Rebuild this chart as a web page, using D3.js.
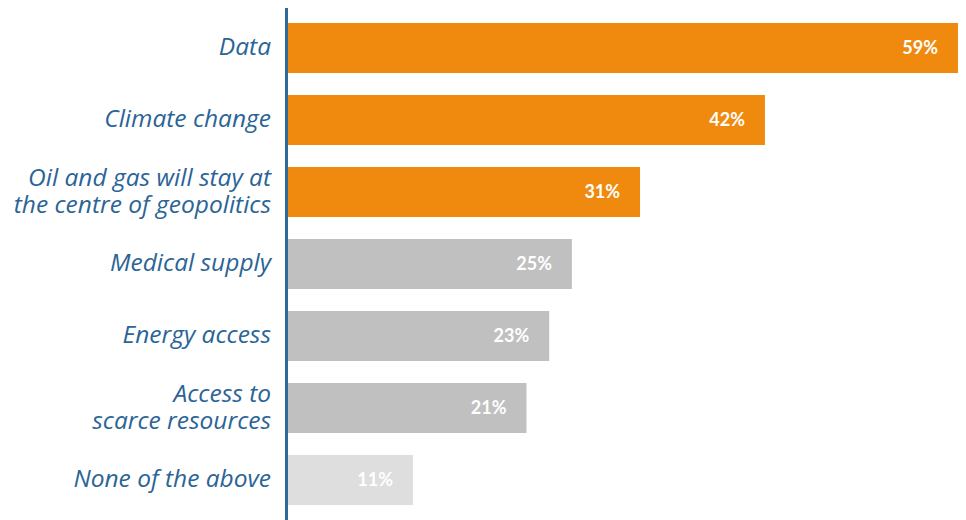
<!DOCTYPE html>
<html><head><meta charset="utf-8">
<script src="https://cdn.jsdelivr.net/npm/d3@7"></script>
<style>body{margin:0;background:#fff}svg{display:block}</style>
</head><body>
<svg id="chart" width="966" height="520"></svg>
<script>
const categories = [
  ["Data"],
  ["Climate change"],
  ["Oil and gas will stay at", "the centre of geopolitics"],
  ["Medical supply"],
  ["Energy access"],
  ["Access to", "scarce resources"],
  ["None of the above"]
];
const values = [59, 42, 31, 25, 23, 21, 11];
const colorGroups = ["top", "top", "top", "mid", "mid", "mid", "low"];
const palette = {top: "#F08A0E", mid: "#C0C0C0", low: "#DEDEDE"};

const svg = d3.select("#chart");
const x0 = 288;
const x = d3.scaleLinear().domain([0, 59]).range([x0, 958]);
const y = d3.scaleBand().domain(d3.range(values.length)).range([23 - 11, 505 + 11]).paddingInner(22/72).paddingOuter(11/72);

const g = svg.append("g");
g.selectAll("rect").data(values).join("rect")
  .attr("x", x(0)).attr("y", (d,i)=>y(i))
  .attr("width", d=>x(d)-x(0)).attr("height", y.bandwidth())
  .attr("fill", (d,i)=>palette[colorGroups[i]]);

g.selectAll("text.val").data(values).join("text")
  .attr("class","val")
  .attr("x", d=>x(d)-20).attr("y", (d,i)=>y(i)+y.bandwidth()/2)
  .attr("dy","0.36em").attr("text-anchor","end")
  .attr("fill","#fff").attr("font-family","Lato, 'Open Sans', sans-serif")
  .attr("font-weight","bold").attr("font-size","18px")
  .text(d=>d+"%");

const lab = g.selectAll("text.cat").data(categories).join("text")
  .attr("class","cat")
  .attr("text-anchor","end")
  .attr("fill","#2B6496")
  .attr("font-family","'Open Sans', sans-serif")
  .attr("font-style","italic").attr("font-size","24.5px");
lab.each(function(lines,i){
  const t = d3.select(this);
  const cy = y(i)+y.bandwidth()/2;
  const lh = 27;
  lines.forEach((s,k)=>{
    t.append("tspan").attr("x", 271)
      .attr("y", cy + (k - (lines.length-1)/2)*lh)
      .attr("dy","0.3em").text(s);
  });
});

svg.append("line").attr("x1",286.5).attr("x2",286.5).attr("y1",8).attr("y2",520)
  .attr("stroke","#2D6A9A").attr("stroke-width",3);
</script>
</body></html>
